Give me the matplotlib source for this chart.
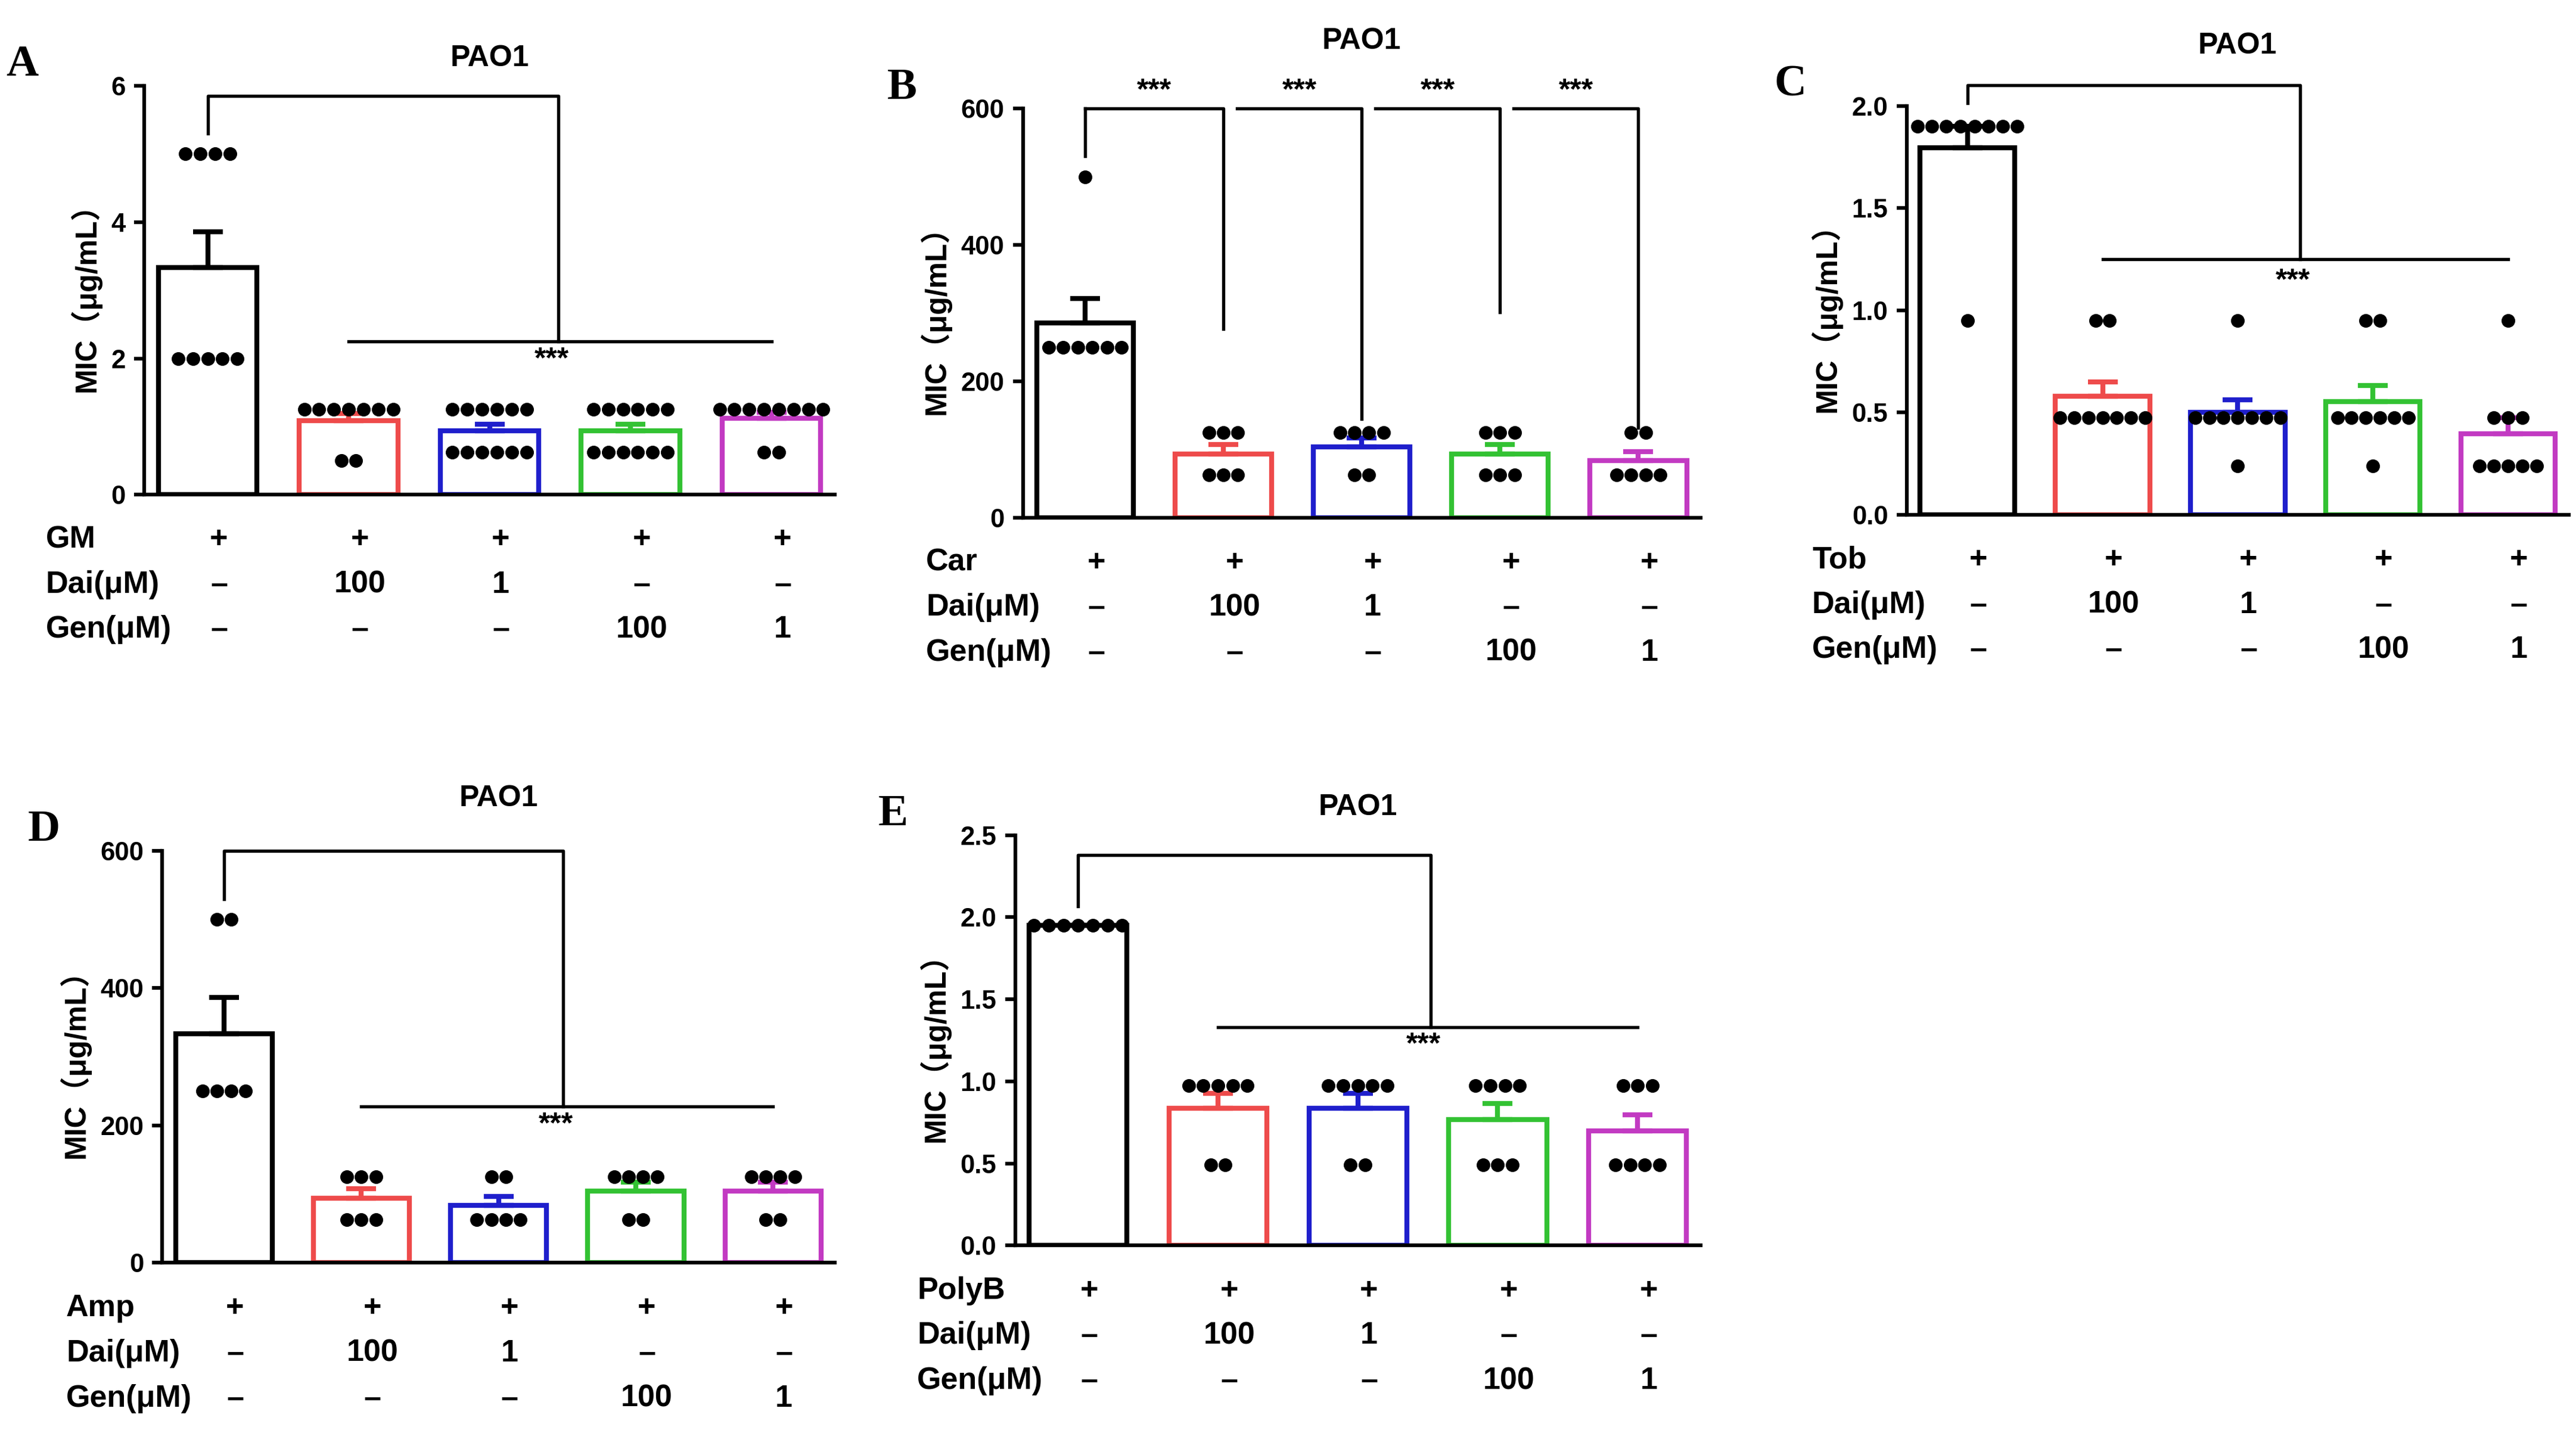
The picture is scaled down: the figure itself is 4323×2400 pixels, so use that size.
from typing import List

import matplotlib.pyplot as plt
import numpy as np

plt.rcParams['font.family'] = ['Liberation Sans', 'Noto Sans CJK SC', 'DejaVu Sans']
plt.rcParams['font.weight'] = 'bold'

BAR_COLORS = ['black', '#EE4B4B', '#1F1FCC', '#33C233', '#C23AC2']
DAI_ROW = ['–', '100', '1', '–', '–']
GEN_ROW = ['–', '–', '–', '100', '1']

# dot values, one list per bar
gm_values = [[5] * 4 + [2] * 5, [1.25] * 7 + [0.5] * 2, [1.25] * 6 + [0.625] * 6,
             [1.25] * 6 + [0.625] * 6, [1.25] * 8 + [0.625] * 2]
car_values = [[500] + [250] * 6, [125] * 3 + [62.5] * 3, [125] * 4 + [62.5] * 2,
              [125] * 3 + [62.5] * 3, [125] * 2 + [62.5] * 4]
tob_values = [[1.9] * 8 + [0.95], [0.95] * 2 + [0.475] * 7, [0.95] + [0.475] * 7 + [0.24],
              [0.95] * 2 + [0.475] * 6 + [0.24], [0.95] + [0.475] * 3 + [0.24] * 5]
amp_values = [[500] * 2 + [250] * 4, [125] * 3 + [62.5] * 3, [125] * 2 + [62.5] * 4,
              [125] * 4 + [62.5] * 2, [125] * 4 + [62.5] * 2]
polyb_values = [[1.95] * 7, [0.975] * 5 + [0.49] * 2, [0.975] * 5 + [0.49] * 2,
                [0.975] * 4 + [0.49] * 3, [0.975] * 3 + [0.49] * 4]


class MicPanel:

    def __init__(self, rect: List[float], letter: str, drug: str, values: list, yticks: list, fmt: str,
                 title_pad: float = 8):
        self._ax: plt.Axes = plt.axes(rect)
        self._letter = letter
        self._drug = drug
        self._values = values
        self._yticks = yticks
        self._fmt = fmt
        self._title_pad = title_pad

    def draw(self) -> plt.Axes:
        ax = self._ax
        x = np.arange(len(self._values))
        means = [np.mean(v) for v in self._values]
        sems = [np.std(v, ddof=1) / np.sqrt(len(v)) for v in self._values]
        ax.bar(x, means, width=0.7, color='white', edgecolor=BAR_COLORS, linewidth=2, zorder=2)
        for i in x:
            ax.errorbar(i, means[i], yerr=[[0], [sems[i]]], color=BAR_COLORS[i], capsize=6,
                        elinewidth=2, capthick=2, zorder=3)
            self.__dots(i, self._values[i])
        ax.set_xlim(-0.45, 4.45)
        ax.set_ylim(self._yticks[0], self._yticks[-1])
        ax.set_yticks(self._yticks)
        ax.set_yticklabels([self._fmt.format(t) for t in self._yticks], fontsize=10.5)
        ax.set_xticks([])
        for side in ['top', 'right']:
            ax.spines[side].set_visible(False)
        for side in ['left', 'bottom']:
            ax.spines[side].set_linewidth(1.5)
        ax.tick_params(axis='y', width=1.5, length=4)
        ax.set_ylabel('MIC（μg/mL）', fontsize=12, fontweight='bold')
        ax.set_title('PAO1', fontsize=12, fontweight='bold', pad=self._title_pad)
        ax.text(-0.2, 1.1, self._letter, transform=ax.transAxes, fontsize=18, fontweight='bold',
                family='Liberation Serif', va='top')
        self.__table()
        return ax

    def __dots(self, i: int, vals: list) -> None:
        for v in sorted(set(vals)):
            n = vals.count(v)
            xs = i + (np.arange(n) - (n - 1) / 2) * 0.105
            self._ax.plot(xs, [v] * n, 'o', color='black', markersize=4.5, zorder=4, clip_on=False)

    def __table(self) -> None:
        tr = self._ax.get_xaxis_transform()
        rows = [[self._drug, ['+'] * 5], ['Dai(μM)', DAI_ROW], ['Gen(μM)', GEN_ROW]]
        for r, (label, cells) in enumerate(rows):
            y = -0.11 - 0.11 * r
            self._ax.text(-1.15, y, label, transform=tr, fontsize=12.5, va='center', ha='left')
            for c, cell in enumerate(cells):
                self._ax.text(c + 0.08, y, cell, transform=tr, fontsize=12.5, va='center', ha='center')

    def bracket_to_group(self, top: float, x_mid: float, y_line: float, star_y: float) -> None:
        ax = self._ax
        ax.plot([0, 0, x_mid, x_mid], [max(self._values[0]) * 1.06, top, top, y_line],
                color='black', lw=1.3, clip_on=False)
        ax.plot([1, 4], [y_line, y_line], color='black', lw=1.3)
        ax.text(x_mid - 0.05, star_y, '***', ha='center', va='center', fontsize=12)

    def pair_brackets(self, top: float, legs: list, star_y: float) -> None:
        ax = self._ax
        ax.plot([0, 0], [max(self._values[0]) * 1.06, top], color='black', lw=1.3, clip_on=False)
        for i, leg in enumerate(legs):
            start = 0 if i == 0 else i + 0.1
            ax.plot([start, i + 1, i + 1], [top, top, leg], color='black', lw=1.3, clip_on=False)
            ax.text((start + i + 1) / 2, star_y, '***', ha='center', va='center', fontsize=12)


fig = plt.figure(figsize=(14.413, 8), dpi=300)

panel_a = MicPanel([0.056, 0.654, 0.268, 0.286], 'A', 'GM', gm_values, [0, 2, 4, 6], '{:g}')
panel_a.draw()
panel_a.bracket_to_group(5.85, 2.49, 2.25, 1.98)

panel_b = MicPanel([0.397, 0.638, 0.263, 0.286], 'B', 'Car', car_values, [0, 200, 400, 600], '{:g}',
                   title_pad=24)
panel_b.draw()
panel_b.pair_brackets(600, [277, 145, 301, 132], 625)

panel_c = MicPanel([0.740, 0.640, 0.257, 0.286], 'C', 'Tob', tob_values, [0.0, 0.5, 1.0, 1.5, 2.0], '{:.1f}',
                   title_pad=21)
panel_c.draw()
panel_c.bracket_to_group(2.1, 2.46, 1.25, 1.14)

panel_d = MicPanel([0.063, 0.117, 0.261, 0.288], 'D', 'Amp', amp_values, [0, 200, 400, 600], '{:g}',
                   title_pad=18)
panel_d.draw()
panel_d.bracket_to_group(600, 2.47, 228, 200)

panel_e = MicPanel([0.394, 0.129, 0.266, 0.287], 'E', 'PolyB', polyb_values,
                   [0.0, 0.5, 1.0, 1.5, 2.0, 2.5], '{:.1f}')
panel_e.draw()
panel_e.bracket_to_group(2.38, 2.52, 1.33, 1.22)

fig.savefig('out.png', dpi=300)
